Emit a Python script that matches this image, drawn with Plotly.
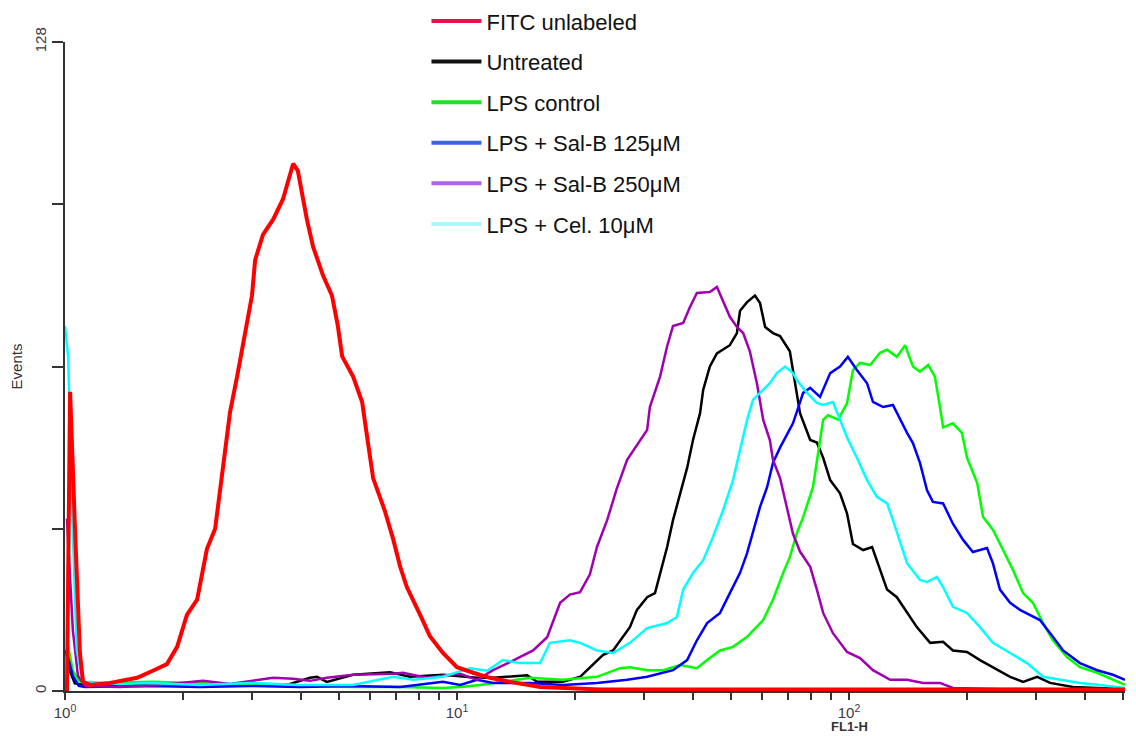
import plotly.graph_objects as go

# ---- data: x in log10(FL1-H) decades, y = events ----
red_log = [0.005, 0.013, 0.026, 0.038, 0.046, 0.064, 0.115, 0.184, 0.224, 0.260, 0.286, 0.311, 0.337,
           0.362, 0.383, 0.395, 0.408, 0.421, 0.439, 0.459, 0.477, 0.485, 0.505, 0.531, 0.556, 0.582,
           0.594, 0.617, 0.633, 0.658, 0.681, 0.696, 0.707, 0.735, 0.758, 0.770, 0.786, 0.816, 0.837,
           0.855, 0.872, 0.906, 0.931, 0.964, 1.000, 1.041, 1.084, 1.135, 1.212, 1.365, 2.704]
red_cnt = [0, 59, 31, 7.5, 1.8, 1.2, 1.6, 2.6, 4, 5.3, 8.7, 15, 18,
           28, 32, 39, 47, 55, 62, 71, 78, 85, 90, 93, 97, 104,
           102.6, 93, 87.6, 82, 78, 72, 66, 62, 57, 50.5, 42, 35.5, 30,
           24.5, 20.5, 15, 10.8, 7.5, 4.7, 3.6, 2.6, 1.8, 0.8, 0.3, 0.3]

blk_log = [0.002, 0.012, 0.025, 0.051, 0.217, 0.344, 0.472, 0.574, 0.625, 0.643, 0.668, 0.735, 0.829,
           0.880, 0.964, 1.051, 1.092, 1.179, 1.204, 1.270, 1.314, 1.339, 1.372, 1.398, 1.416, 1.441,
           1.459, 1.485, 1.505, 1.518, 1.536, 1.551, 1.569, 1.587, 1.602, 1.620, 1.628, 1.645, 1.663,
           1.696, 1.714, 1.722, 1.740, 1.760, 1.773, 1.786, 1.806, 1.824, 1.849, 1.862, 1.875, 1.901,
           1.918, 1.934, 1.952, 1.977, 1.995, 2.010, 2.036, 2.059, 2.079, 2.097, 2.122, 2.148, 2.173,
           2.207, 2.240, 2.265, 2.301, 2.334, 2.367, 2.411, 2.444, 2.480, 2.513, 2.571, 2.633, 2.704]
blk_cnt = [8, 4, 1.5, 1.2, 1.2, 1.3, 1.2, 1.4, 2.6, 2.8, 1.8, 3.2, 3.7,
           2.8, 3.2, 2.6, 2.6, 3.1, 1.8, 1.8, 2.8, 4.7, 7.1, 8, 10, 12.6,
           16, 18.5, 19.3, 23.3, 28.4, 33.7, 39, 44, 49.5, 54.8, 59.4, 64, 66.6,
           68.2, 70.6, 75, 76.7, 78, 76.5, 71.8, 70.6, 70, 67, 61, 54.8, 49.5,
           49, 46, 41.6, 39, 35, 29, 27.8, 28.4, 24, 20, 18.5, 15.4, 12.6,
           9.5, 9.7, 8, 7.7, 6.1, 4.7, 2.8, 1.8, 2.8, 1.6, 0.8, 0.6, 0.4]

grn_log = [0.005, 0.020, 0.035, 0.051, 0.217, 0.344, 0.472, 0.599, 0.735, 0.855, 0.964, 1.008, 1.059,
           1.092, 1.143, 1.186, 1.270, 1.357, 1.416, 1.441, 1.485, 1.526, 1.569, 1.612, 1.638, 1.671,
           1.704, 1.740, 1.781, 1.806, 1.832, 1.849, 1.867, 1.883, 1.908, 1.926, 1.934, 1.946, 1.972,
           1.995, 2.010, 2.028, 2.054, 2.079, 2.097, 2.122, 2.143, 2.163, 2.181, 2.202, 2.219, 2.232,
           2.240, 2.265, 2.288, 2.301, 2.327, 2.342, 2.367, 2.393, 2.418, 2.444, 2.469, 2.495, 2.520,
           2.556, 2.589, 2.633, 2.704]
grn_cnt = [10, 4, 2, 1.5, 1.8, 1.5, 1.2, 1.0, 0.8, 0.8, 0.6, 0.8, 1.2,
           1.6, 2.2, 2.6, 2.2, 2.8, 4.5, 4.7, 4.1, 4.1, 5.1, 4.5, 6.1, 8,
           8.7, 10.7, 14, 18, 23.3, 26.4, 31.2, 34.3, 40.2, 49.5, 53.5, 54.4, 53.5,
           56.8, 63.3, 64.7, 64.3, 66.7, 67.3, 65.9, 68.2, 64, 63, 64.3, 62, 56,
           52, 52.8, 50.9, 46, 41, 34.3, 31.8, 27.8, 23.9, 19.3, 17.4, 13.4, 10,
           6.7, 4.7, 3.6, 1.2]

blu_log = [0.003, 0.020, 0.035, 0.051, 0.217, 0.344, 0.472, 0.599, 0.727, 0.855, 0.964, 1.008, 1.051,
           1.092, 1.186, 1.270, 1.357, 1.434, 1.485, 1.551, 1.587, 1.612, 1.638, 1.671, 1.696, 1.722,
           1.740, 1.755, 1.773, 1.791, 1.806, 1.824, 1.857, 1.883, 1.901, 1.926, 1.952, 1.977, 1.997,
           2.020, 2.046, 2.061, 2.087, 2.112, 2.130, 2.148, 2.163, 2.181, 2.199, 2.214, 2.240, 2.265,
           2.291, 2.316, 2.352, 2.367, 2.385, 2.411, 2.436, 2.469, 2.487, 2.520, 2.546, 2.589, 2.633,
           2.673, 2.704]
blu_cnt = [8, 3, 1, 0.8, 1.0, 0.8, 1.0, 0.8, 1.0, 0.8, 1.8, 1.2, 2.2,
           1.6, 1.6, 1.2, 1.6, 2.2, 2.8, 4.1, 6.1, 10, 13.4, 15.4, 19.3, 23.3,
           27.2, 31.2, 36.3, 40.2, 45, 48, 52.8, 58.8, 59.8, 58, 62.7, 64, 65.9,
           63.3, 60.7, 57, 56, 56.4, 53.5, 50.9, 48.9, 45, 39.6, 37.3, 37, 33,
           29.8, 27.4, 28.2, 25.2, 20, 17.4, 16, 14.6, 14, 10.7, 8, 5.5, 4.1,
           3.2, 2.2]

pur_log = [0.005, 0.020, 0.033, 0.051, 0.140, 0.242, 0.352, 0.421, 0.531, 0.582, 0.625, 0.668, 0.735,
           0.837, 0.862, 0.923, 0.964, 1.008, 1.051, 1.092, 1.135, 1.194, 1.230, 1.263, 1.288, 1.314,
           1.339, 1.357, 1.383, 1.408, 1.434, 1.467, 1.485, 1.492, 1.518, 1.536, 1.551, 1.577, 1.594,
           1.612, 1.645, 1.663, 1.679, 1.696, 1.714, 1.730, 1.747, 1.765, 1.781, 1.798, 1.806, 1.824,
           1.842, 1.857, 1.875, 1.901, 1.918, 1.934, 1.959, 1.995, 2.028, 2.061, 2.105, 2.148, 2.189,
           2.232, 2.265, 2.385, 2.704]
pur_cnt = [34, 12, 3, 1.0, 0.8, 1.2, 2.0, 1.4, 2.6, 2.4, 2.0, 2.6, 3.2,
           3.4, 3.6, 2.6, 3.0, 3.4, 2.2, 4.1, 5.7, 8, 10.6, 17.4, 19, 19.5,
           23, 28.4, 33.7, 40, 45.6, 49.5, 51.5, 56, 62, 68, 72, 72.6, 75.7,
           78.5, 78.7, 79.7, 77, 73.8, 71.8, 70.6, 67, 60.7, 53.5, 49.5, 45.6, 42,
           36, 31, 27.5, 24.5, 20, 15.4, 11.4, 7.7, 6.5, 4.1, 2.2, 2.2, 1.6,
           1.6, 0.6, 0.4, 0.3]

cyn_log = [0.000, 0.008, 0.018, 0.030, 0.045, 0.051, 0.140, 0.217, 0.344, 0.472, 0.599, 0.735, 0.837,
           0.888, 0.964, 1.033, 1.077, 1.117, 1.161, 1.212, 1.237, 1.288, 1.314, 1.357, 1.398, 1.441,
           1.485, 1.536, 1.561, 1.577, 1.602, 1.628, 1.653, 1.679, 1.704, 1.722, 1.740, 1.755, 1.781,
           1.798, 1.816, 1.837, 1.857, 1.867, 1.893, 1.918, 1.934, 1.959, 1.977, 1.995, 2.020, 2.046,
           2.071, 2.097, 2.112, 2.130, 2.148, 2.181, 2.199, 2.224, 2.240, 2.265, 2.301, 2.334, 2.367,
           2.411, 2.454, 2.495, 2.546, 2.589, 2.640, 2.704]
cyn_cnt = [72, 66, 36, 8, 2, 1.8, 1.4, 1.6, 1.2, 1.6, 1.2, 1.2, 2.8,
           2.2, 2.8, 4.5, 4.0, 6.1, 5.5, 5.5, 9.5, 10, 9.5, 8, 7.5, 9.5,
           12.4, 13.4, 14.6, 20, 23.3, 25.8, 30.4, 35.7, 41.6, 47.5, 53.5, 57.4, 59.4,
           60.7, 62.7, 64, 62.7, 61.3, 58.8, 56.8, 56.4, 57, 53.5, 50, 46, 41.6,
           38.3, 37, 33.7, 29.2, 25.2, 21.9, 21.5, 22.5, 20.5, 16.6, 15.4, 12.6, 9.5,
           7.5, 5.5, 2.8, 2.2, 1.6, 1.2, 0.6]

names = ["FITC unlabeled", "Untreated", "LPS control", "LPS + Sal-B 125μM", "LPS + Sal-B 250μM", "LPS + Cel. 10μM"]
line_colors = ["#ff0000", "#000000", "#00ff00", "#0000ff", "#a000b0", "#00ffff"]
legend_colors = ["#e8104a", "#111111", "#22e022", "#3a63e8", "#b063e8", "#a8f8fb"]
series = [(red_log, red_cnt), (blk_log, blk_cnt), (grn_log, grn_cnt),
          (blu_log, blu_cnt), (pur_log, pur_cnt), (cyn_log, cyn_cnt)]
widths = [4, 2.5, 2.5, 2.5, 2.5, 2.5]

major_vals = [1, 10, 100]
major_text = ["10<sup>0</sup>", "10<sup>1</sup>", "10<sup>2</sup>"]
y_tickvals = [0, 32, 64, 96, 128]
y_ticktext = ["0", "", "", "", "128"]

fig = go.Figure()

draw_order = [1, 2, 3, 4, 5, 0]
for i in draw_order:
    lg, ct = series[i]
    fig.add_trace(go.Scatter(x=[10 ** v for v in lg], y=ct, mode="lines",
                             line=dict(color=line_colors[i], width=widths[i]),
                             showlegend=False, hoverinfo="skip"))

for i, nm in enumerate(names):
    fig.add_trace(go.Scatter(x=[None], y=[None], mode="lines", name=nm, legendgroup=nm,
                             line=dict(color=legend_colors[i], width=4)))

# x ticks: every integer multiple within each decade
xt_vals, xt_text = [], []
for dec in [1, 10, 100]:
    for m in range(1, 10):
        v = m * dec
        if v > 500:
            break
        xt_vals.append(v)
        xt_text.append(major_text[major_vals.index(v)] if v in major_vals else "")

fig.update_layout(
    width=1136, height=736,
    margin=dict(l=65, r=11, t=42, b=45, autoexpand=False),
    paper_bgcolor="white", plot_bgcolor="white",
    font=dict(family="Liberation Sans, Arial, sans-serif", color="#333333"),
    legend=dict(x=0.341, y=1.0645, xanchor="left", yanchor="top",
                font=dict(size=22, color="#111111"), bgcolor="rgba(0,0,0,0)",
                tracegroupgap=9, itemwidth=50, traceorder="grouped"),
    xaxis=dict(type="log", range=[0, 2.704], showgrid=False, zeroline=False, automargin=False,
               showline=True, linecolor="#333333", linewidth=2,
               tickmode="array", tickvals=xt_vals, ticktext=xt_text,
               ticks="outside", ticklen=7, tickwidth=1.5, tickcolor="#333333",
               tickfont=dict(size=15, color="#3a3a4a")),
    yaxis=dict(range=[0, 128], showgrid=False, zeroline=False, automargin=False,
               showline=True, linecolor="#333333", linewidth=2,
               tickmode="array", tickvals=y_tickvals, ticktext=y_ticktext,
               ticks="outside", ticklen=11, tickwidth=1.5, tickcolor="#333333",
               tickangle=-90, tickfont=dict(size=15, color="#3a3a4a"),
               title=dict(text="Events", font=dict(size=15, color="#333333"), standoff=6)),
    annotations=[dict(text="<b>FL1-H</b>", x=2, xref="x", y=-0.054, yref="paper",
                      showarrow=False, xanchor="center", yanchor="middle",
                      font=dict(size=13, color="#333333"))],
)

fig.write_html("out.html")
